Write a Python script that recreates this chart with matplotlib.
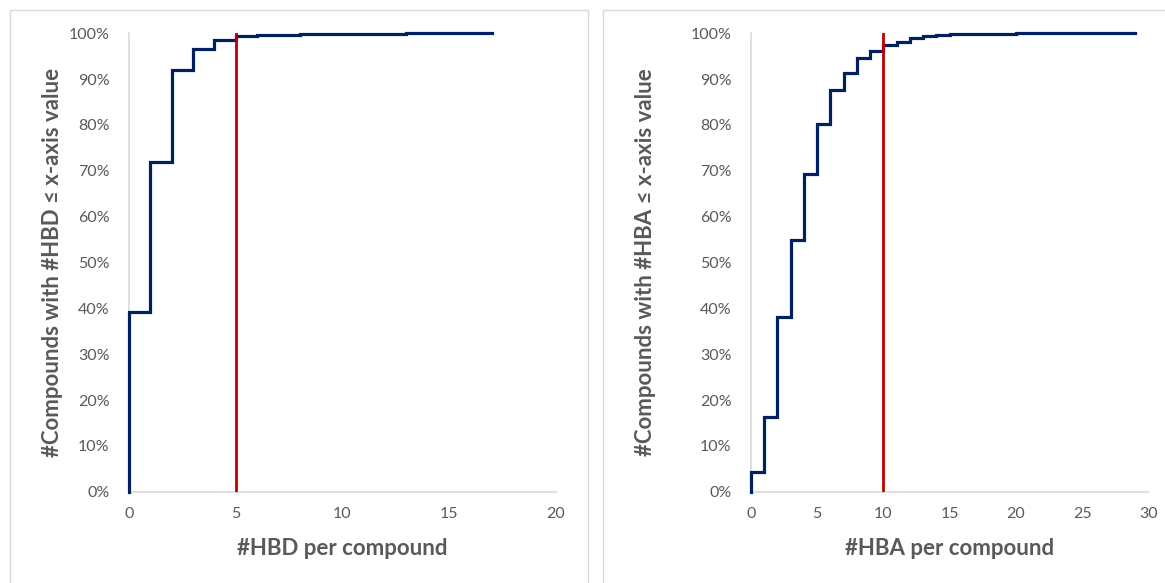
import matplotlib
matplotlib.use("Agg")
import matplotlib.pyplot as plt
from matplotlib.patches import Rectangle
from matplotlib.ticker import FuncFormatter

plt.rcParams['font.family'] = ['Lato', 'DejaVu Sans']

# HBD: cumulative % of compounds with #HBD <= x
hbd_x = list(range(0, 18))
hbd_pct = [39.2, 72.0, 92.1, 96.5, 98.5, 99.4, 99.6, 99.6, 99.75, 99.75,
           99.9, 99.92, 99.94, 99.96, 99.97, 99.98, 99.99, 100.0]
hbd_limit = 5

# HBA: cumulative % of compounds with #HBA <= x
hba_x = list(range(0, 30))
hba_pct = [4.3, 16.3, 38.1, 55.0, 69.3, 80.2, 87.6, 91.4, 94.7, 96.1,
           97.4, 98.0, 99.0, 99.5, 99.7, 99.8, 99.85, 99.9, 99.93, 99.95,
           99.96, 99.97, 99.97, 99.98, 99.98, 99.99, 99.99, 99.99, 99.99, 100.0]
hba_limit = 10

panels = [
    dict(x=hbd_x, y=hbd_pct, limit=hbd_limit, xmax=20, xticks=[0, 5, 10, 15, 20],
         xlabel="#HBD per compound", ylabel="#Compounds with #HBD \u2264 x-axis value"),
    dict(x=hba_x, y=hba_pct, limit=hba_limit, xmax=30, xticks=[0, 5, 10, 15, 20, 25, 30],
         xlabel="#HBA per compound", ylabel="#Compounds with #HBA \u2264 x-axis value"),
]

W, H = 1165, 583
fig = plt.figure(figsize=(W / 100, H / 100), dpi=100)
fig.patch.set_facecolor("white")

def px_rect(x0, y0, x1, y1):
    # pixel coords (top-left origin) -> figure fraction [left, bottom, width, height]
    return [x0 / W, 1 - y1 / H, (x1 - x0) / W, (y1 - y0) / H]

# panel frames
for (x0, y0, x1, y1) in [(9.5, 10, 587.5, 600), (602.7, 10, 1175, 600)]:
    l, b, w, h = px_rect(x0, y0, x1, y1)
    fig.patches.append(Rectangle((l, b), w, h, transform=fig.transFigure,
                                 fill=False, edgecolor="#D9D9D9", linewidth=1.0))

axes_px = [(129, 33.3, 555.5, 491.7), (751, 33.3, 1148.3, 491.7)]
ylabel_x = [63, 656]

grey = "#595959"
for p, (x0, y0, x1, y1), ylx in zip(panels, axes_px, ylabel_x):
    ax = fig.add_axes(px_rect(x0, y0, x1, y1))
    xs = [0] + p["x"]
    ys = [0] + p["y"]
    ax.step(xs, ys, where="post", color="#002060", linewidth=2.3,
            solid_joinstyle="miter", clip_on=False, zorder=3)
    ax.axvline(p["limit"], color="#C00000", linewidth=2.0, zorder=4)
    ax.set_xlim(0, p["xmax"])
    ax.set_ylim(0, 100)
    ax.set_xticks(p["xticks"])
    ax.set_yticks(range(0, 101, 10))
    ax.yaxis.set_major_formatter(FuncFormatter(lambda v, pos: f"{int(v)}%"))
    for s in ["top", "right"]:
        ax.spines[s].set_visible(False)
    for s in ["left", "bottom"]:
        ax.spines[s].set_color("#D9D9D9")
        ax.spines[s].set_linewidth(1.2)
    ax.tick_params(axis="both", length=0, labelsize=11.5, labelcolor=grey)
    ax.tick_params(axis="x", pad=11)
    ax.tick_params(axis="y", pad=14)
    ax.set_xlabel(p["xlabel"], fontsize=16, fontweight="bold", color=grey)
    ax.set_ylabel(p["ylabel"], fontsize=16, fontweight="bold", color=grey)
    ax.xaxis.set_label_coords(0.5, (y1 - 538) / (y1 - y0))
    ax.yaxis.set_label_coords((ylx - x0) / (x1 - x0), 0.5)
    ax.set_facecolor("none")

fig.savefig("out.png", dpi=100, facecolor="white")
